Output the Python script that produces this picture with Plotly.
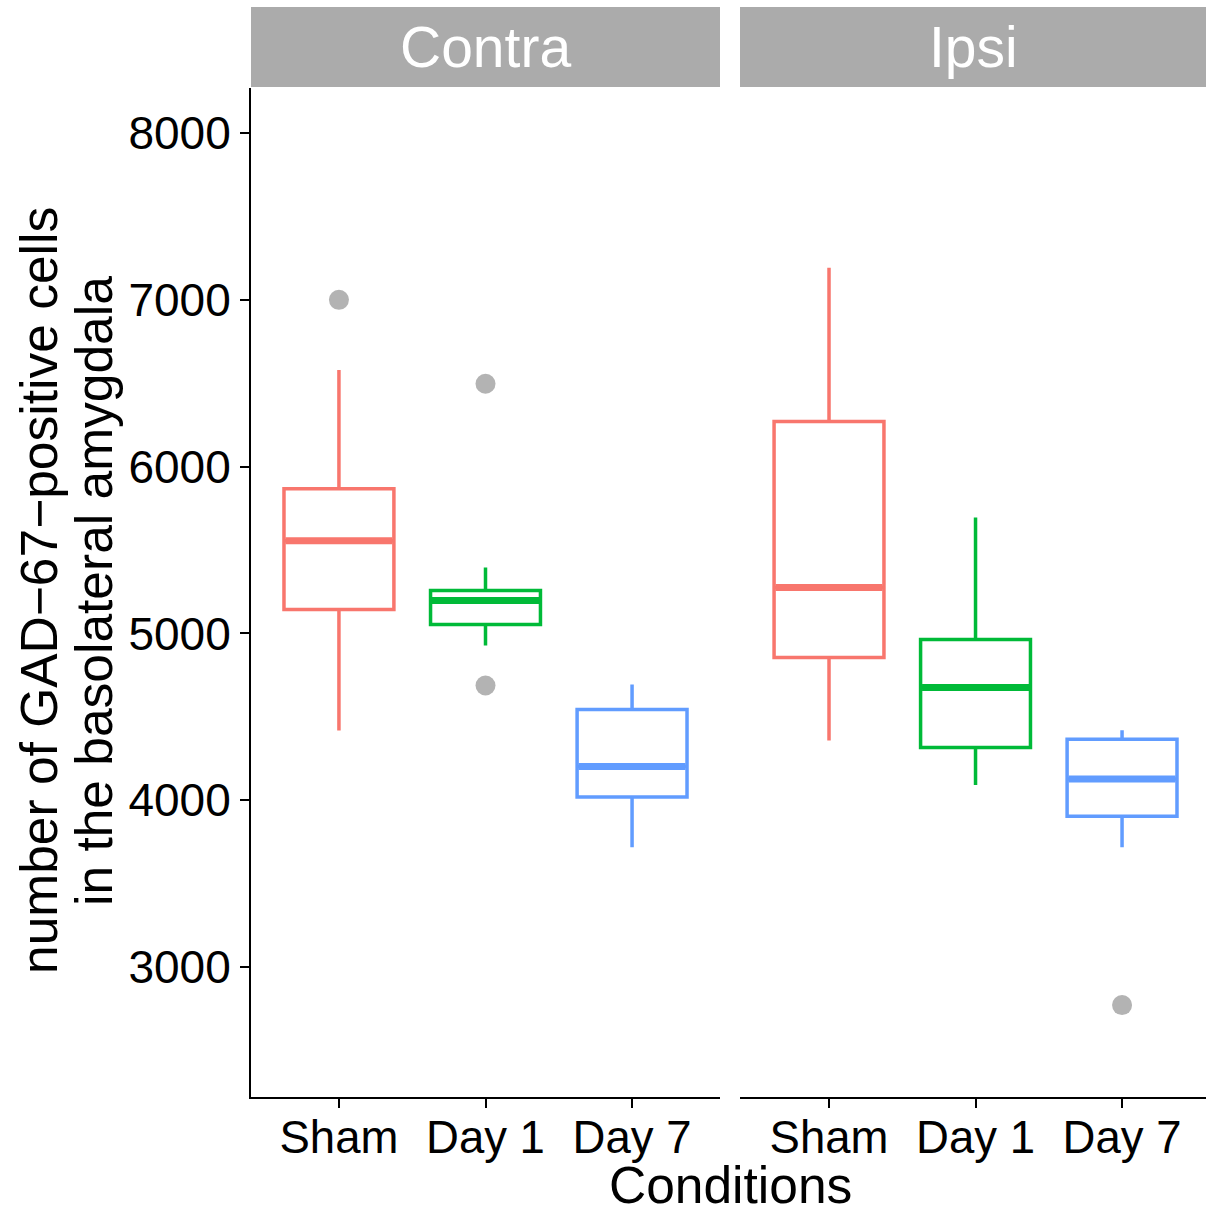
import plotly.graph_objects as go

panels = ["Contra", "Ipsi"]
conditions = ["Sham", "Day 1", "Day 7"]
colors = ["#F8766D", "#00BA38", "#619CFF"]

# Box statistics per panel: order Sham, Day 1, Day 7
upper = {"Contra": [6580, 5396, 4694], "Ipsi": [7192, 5695, 4420]}
q3 = {"Contra": [5868, 5258, 4544], "Ipsi": [6270, 4964, 4366]}
median = {"Contra": [5556, 5198, 4202], "Ipsi": [5276, 4676, 4127]}
q1 = {"Contra": [5144, 5054, 4020], "Ipsi": [4856, 4316, 3904]}
lower = {"Contra": [4418, 4928, 3718], "Ipsi": [4358, 4091, 3718]}
outliers = {
    "Contra": [("Sham", 7000), ("Day 1", 6497), ("Day 1", 4688)],
    "Ipsi": [("Day 7", 2772)],
}

yticks = [3000, 4000, 5000, 6000, 7000, 8000]
ytitle_lines = ["number of GAD\u221267\u2212positive cells", "in the basolateral amygdala"]
xtitle = "Conditions"

FONT = "Liberation Sans, Arial, sans-serif"
BW = 0.75

fig = go.Figure()
axes = [("x", "y"), ("x2", "y2")]
for p, (xa, ya) in zip(panels, axes):
    for i, c in enumerate(conditions):
        pos = i + 1
        fig.add_trace(go.Box(
            x=[pos], q1=[q1[p][i]], median=[median[p][i]], q3=[q3[p][i]],
            lowerfence=[lower[p][i]], upperfence=[upper[p][i]],
            width=BW, whiskerwidth=0, boxpoints=False,
            line=dict(color=colors[i], width=3.5), fillcolor="white",
            xaxis=xa, yaxis=ya, showlegend=False, hoverinfo="skip",
        ))
        # thicker median line (ggplot fatten)
        fig.add_trace(go.Scatter(
            x=[pos - BW / 2 + 0.01, pos + BW / 2 - 0.01],
            y=[median[p][i], median[p][i]],
            mode="lines", line=dict(color=colors[i], width=7),
            xaxis=xa, yaxis=ya, showlegend=False, hoverinfo="skip",
        ))
    ox = [conditions.index(c) + 1 for c, v in outliers[p]]
    oy = [v for c, v in outliers[p]]
    fig.add_trace(go.Scatter(
        x=ox, y=oy, mode="markers",
        marker=dict(color="#B3B3B3", size=20, line=dict(width=0)),
        xaxis=xa, yaxis=ya, showlegend=False, hoverinfo="skip",
    ))

W, H = 1206, 1212
ml, mr, mt, mb = 251, 0, 88, 115
pw = W - ml - mr
ph = H - mt - mb
d1 = [0, 469 / pw]
d2 = [489 / pw, 1]

yr = [2221, 8270]
xcommon = dict(
    tickvals=[1, 2, 3], ticktext=conditions,
    showgrid=False, zeroline=False, showline=True, linecolor="black", linewidth=2,
    ticks="outside", ticklen=9, tickwidth=2, tickcolor="black",
    ticklabelstandoff=-10,
    tickfont=dict(size=45.5, color="black", family=FONT),
)
fig.update_layout(
    width=W, height=H,
    margin=dict(l=ml, r=mr, t=mt, b=mb),
    paper_bgcolor="white", plot_bgcolor="white",
    font=dict(family=FONT, color="black"),
    xaxis=dict(domain=d1, anchor="y", range=[0.4, 3.6], **xcommon),
    xaxis2=dict(domain=d2, anchor="y2", range=[0.3925, 3.573], **xcommon),
    yaxis=dict(
        range=yr, tickvals=yticks, showgrid=False, zeroline=False,
        showline=True, linecolor="black", linewidth=2,
        ticks="outside", ticklen=9, tickwidth=2, tickcolor="black",
        tickfont=dict(size=46, color="black", family=FONT),
    ),
    yaxis2=dict(range=yr, anchor="x2", showgrid=False, zeroline=False,
                showline=False, showticklabels=False, ticks=""),
)

# facet strips
for p, d in zip(panels, [d1, d2]):
    fig.add_shape(type="rect", xref="paper", yref="paper",
                  x0=d[0], x1=d[1], y0=1 + 1 / ph, y1=1 + 81 / ph,
                  fillcolor="#ABABAB", line=dict(width=0), layer="below")
    fig.add_annotation(text=p, xref="paper", yref="paper",
                       x=(d[0] + d[1]) / 2, y=1 + 41 / ph, showarrow=False,
                       xanchor="center", yanchor="middle",
                       font=dict(size=57, color="white", family=FONT))

# y-axis title (two rotated lines)
for line, px in zip(ytitle_lines, [39, 94]):
    fig.add_annotation(text=line, xref="paper", yref="paper",
                       x=(px - ml) / pw, y=1 - (591 - mt) / ph, showarrow=False,
                       textangle=-90, xanchor="center", yanchor="middle",
                       font=dict(size=51.5, color="black", family=FONT))

fig.add_annotation(text=xtitle, xref="paper", yref="paper",
                   x=(730 - ml) / pw, y=-(1185 - 1097) / ph, showarrow=False,
                   xanchor="center", yanchor="middle",
                   font=dict(size=51.5, color="black", family=FONT))

fig.write_html("out.html", config={"displayModeBar": False},
               post_script="document.body.style.margin='0';")
